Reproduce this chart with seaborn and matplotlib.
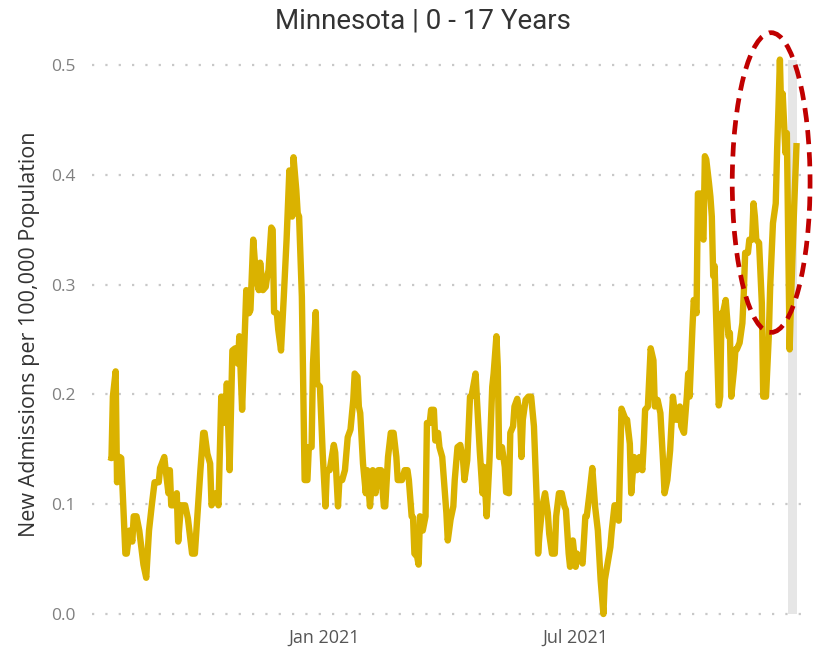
import numpy as np
import pandas as pd
import matplotlib
matplotlib.use("Agg")
import matplotlib.pyplot as plt
from matplotlib.patches import Ellipse
import seaborn as sns

# ---- data (days offset from 2021-01-01, rate per 100k) ----
base_date = "2021-01-01"
day_offset = [
    -155, -153, -152, -150, -149, -147, -146, -143, -142, -140, -138, -137, -135, -133, -130, -128,
    -126, -124, -122, -119, -118, -115, -114, -112, -111, -110, -108, -106, -105, -103, -100, -98,
    -95, -93, -89, -87, -86, -84, -82, -81, -78, -76, -74, -73, -72, -71, -70, -68,
    -66, -64, -62, -61, -59, -57, -56, -54, -53, -51, -49, -47, -46, -44, -42, -41,
    -40, -38, -37, -36, -34, -33, -31, -29, -27, -25, -24, -23, -22, -20, -19, -18,
    -16, -14, -12, -11, -9, -8, -6, -5, -3, -1, 1, 2, 4, 7, 8, 10,
    11, 13, 15, 17, 19, 21, 22, 24, 25, 26, 28, 30, 31, 33, 35, 37,
    39, 41, 43, 44, 46, 48, 50, 52, 53, 56, 58, 60, 61, 63, 64, 65,
    67, 68, 69, 71, 73, 74, 76, 77, 79, 80, 82, 83, 85, 88, 89, 91,
    93, 94, 96, 98, 100, 101, 103, 105, 106, 109, 110, 112, 114, 115, 117, 119,
    121, 122, 124, 125, 126, 128, 130, 131, 133, 134, 136, 137, 139, 141, 142, 143,
    145, 147, 149, 151, 153, 154, 155, 157, 159, 161, 162, 164, 166, 167, 169, 171,
    173, 174, 176, 177, 179, 181, 182, 184, 186, 188, 189, 191, 193, 195, 197, 199,
    201, 202, 204, 206, 207, 209, 211, 212, 214, 217, 218, 220, 221, 223, 225, 227,
    229, 230, 231, 233, 235, 237, 238, 240, 242, 244, 245, 247, 249, 251, 253, 254,
    256, 257, 259, 261, 262, 263, 265, 266, 268, 269, 271, 272, 273, 274, 275, 277,
    278, 279, 280, 281, 284, 285, 286, 287, 289, 291, 292, 293, 295, 296, 297, 299,
    301, 302, 303, 305, 306, 308, 309, 310, 311, 313, 315, 316, 318, 320, 321, 323,
    325, 326, 327, 328, 329, 330, 331, 332, 333, 335, 336, 338, 340,
]
admissions = [
    0.143, 0.142, 0.198, 0.221, 0.120, 0.143, 0.142, 0.055, 0.055, 0.076, 0.066, 0.089, 0.089, 0.076, 0.045, 0.033,
    0.076, 0.099, 0.120, 0.120, 0.133, 0.143, 0.131, 0.110, 0.131, 0.099, 0.099, 0.110, 0.066, 0.099, 0.099, 0.087,
    0.055, 0.055, 0.131, 0.165, 0.165, 0.146, 0.137, 0.099, 0.110, 0.099, 0.198, 0.183, 0.198, 0.174, 0.210, 0.131,
    0.240, 0.242, 0.228, 0.253, 0.186, 0.259, 0.295, 0.274, 0.277, 0.341, 0.307, 0.295, 0.320, 0.295, 0.298, 0.307,
    0.313, 0.352, 0.350, 0.275, 0.274, 0.259, 0.240, 0.289, 0.341, 0.404, 0.389, 0.362, 0.416, 0.386, 0.365, 0.362,
    0.289, 0.122, 0.122, 0.152, 0.152, 0.228, 0.275, 0.210, 0.207, 0.146, 0.098, 0.131, 0.131, 0.154, 0.147, 0.098,
    0.122, 0.122, 0.131, 0.161, 0.168, 0.195, 0.219, 0.216, 0.189, 0.183, 0.137, 0.110, 0.131, 0.098, 0.131, 0.110,
    0.131, 0.131, 0.098, 0.098, 0.143, 0.165, 0.165, 0.143, 0.122, 0.122, 0.131, 0.131, 0.122, 0.089, 0.088, 0.055,
    0.052, 0.045, 0.089, 0.076, 0.089, 0.174, 0.174, 0.186, 0.186, 0.158, 0.165, 0.152, 0.143, 0.092, 0.067, 0.086,
    0.098, 0.122, 0.152, 0.154, 0.140, 0.122, 0.140, 0.198, 0.198, 0.219, 0.195, 0.149, 0.110, 0.134, 0.089, 0.140,
    0.207, 0.219, 0.253, 0.225, 0.143, 0.152, 0.134, 0.111, 0.110, 0.165, 0.171, 0.189, 0.196, 0.180, 0.143, 0.177,
    0.195, 0.198, 0.198, 0.171, 0.104, 0.055, 0.073, 0.098, 0.110, 0.092, 0.073, 0.055, 0.055, 0.089, 0.110, 0.110,
    0.098, 0.095, 0.055, 0.043, 0.067, 0.043, 0.055, 0.050, 0.046, 0.089, 0.089, 0.110, 0.133, 0.098, 0.076, 0.031,
    0.000, 0.031, 0.046, 0.061, 0.076, 0.099, 0.099, 0.085, 0.187, 0.177, 0.177, 0.155, 0.110, 0.143, 0.131, 0.143,
    0.131, 0.155, 0.186, 0.189, 0.242, 0.231, 0.189, 0.195, 0.183, 0.137, 0.110, 0.122, 0.149, 0.198, 0.177, 0.177,
    0.189, 0.171, 0.165, 0.198, 0.219, 0.198, 0.259, 0.286, 0.274, 0.383, 0.383, 0.344, 0.341, 0.417, 0.414, 0.392,
    0.380, 0.362, 0.308, 0.317, 0.190, 0.198, 0.274, 0.274, 0.286, 0.253, 0.256, 0.198, 0.223, 0.241, 0.241, 0.247,
    0.265, 0.292, 0.329, 0.329, 0.341, 0.341, 0.374, 0.362, 0.341, 0.338, 0.283, 0.198, 0.198, 0.253, 0.298, 0.356,
    0.374, 0.423, 0.462, 0.505, 0.453, 0.474, 0.447, 0.420, 0.438, 0.241, 0.286, 0.362, 0.429,
]
# incomplete-data shaded period (day offsets) and its top value
incomplete_days = [333.7, 340.3]
incomplete_top = 0.505
x_tick_dates = ["2021-01-01", "2021-07-01"]
x_tick_labels = ["Jan 2021", "Jul 2021"]
y_ticks = [0.0, 0.1, 0.2, 0.3, 0.4, 0.5]
title = "Minnesota | 0 - 17 Years"
ylabel = "New Admissions per 100,000 Population"

base = pd.Timestamp(base_date)
df = pd.DataFrame({
    "date": base + pd.to_timedelta(day_offset, unit="D"),
    "value": admissions,
})

sns.set_theme(style="white")
plt.rcParams["font.family"] = ["Open Sans", "DejaVu Sans"]

fig = plt.figure(figsize=(8.18, 6.48), dpi=100)
ax = fig.add_axes([0.1125, 0.044, 0.880, 0.881])

# shaded band
band = base + pd.to_timedelta(incomplete_days, unit="D")
ax.fill_between(band, 0, incomplete_top, color="#E6E6E6", linewidth=0, zorder=1)

sns.lineplot(data=df, x="date", y="value", color="#DAB200", linewidth=4.6,
             ax=ax, zorder=3, solid_joinstyle="round", solid_capstyle="butt")

ax.set_xlim(base + pd.Timedelta(days=-167), base + pd.Timedelta(days=351))
ax.set_ylim(-0.005, 0.515)

ax.set_yticks(y_ticks)
ax.set_yticklabels([f"{v:.1f}" for v in y_ticks], color="#808080", fontsize=12.5)
ax.set_xticks(pd.to_datetime(x_tick_dates))
ax.set_xticklabels(x_tick_labels, color="#555555", fontsize=13)
ax.tick_params(axis="x", length=0, pad=7)
ax.tick_params(axis="y", length=0, pad=12)

ax.grid(axis="y", color="#C8C8C8", linestyle=(0, (1, 5)), linewidth=1.6)
ax.grid(axis="x", visible=False)
for s in ax.spines.values():
    s.set_visible(False)

ax.set_xlabel("")
ax.set_ylabel(ylabel, fontsize=15.5, color="#333333", labelpad=8)

fig.text(0.517, 0.968, title, ha="center", va="center", fontsize=20,
         color="#333333", family=["Roboto", "DejaVu Sans"])

# red dashed ellipse highlight
center = base + pd.Timedelta(days=321.7)
ell = Ellipse((matplotlib.dates.date2num(center), 0.393), width=56, height=0.273,
              fill=False, edgecolor="#C00000", linewidth=3.4,
              linestyle=(0, (3.0, 1.7)), clip_on=False, zorder=5)
ax.add_patch(ell)

fig.savefig("out.png", dpi=100)
